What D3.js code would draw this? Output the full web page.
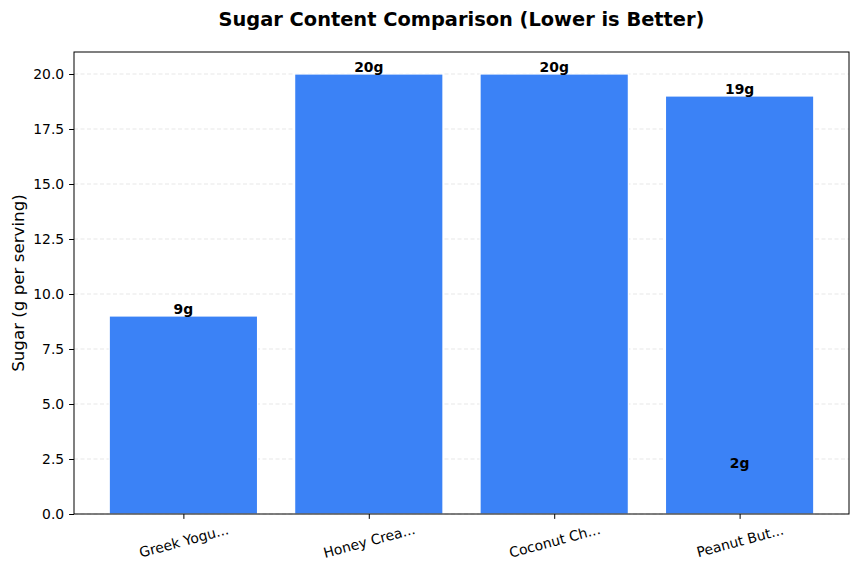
<!DOCTYPE html>
<html>
<head>
<meta charset="utf-8">
<script src="https://cdn.jsdelivr.net/npm/d3@7"></script>
<style>
  body { margin: 0; background: #fff; }
  text { font-family: "DejaVu Sans", sans-serif; }
</style>
</head>
<body>
<svg id="chart" width="859" height="572"></svg>
<script>
// products as plotted; the last two share one truncated name, so they share a slot
const products = ['Greek Yogu...', 'Honey Crea...', 'Coconut Ch...', 'Peanut But...', 'Peanut But...'];
const sugar = [9, 20, 20, 19, 2];
const yTicks = [0, 2.5, 5, 7.5, 10, 12.5, 15, 17.5, 20];

const MARGIN = {top: 52, right: 10, bottom: 58, left: 74};
const width = 859, height = 572;
const innerWidth = width - MARGIN.left - MARGIN.right;
const innerHeight = height - MARGIN.top - MARGIN.bottom;

const svg = d3.select('#chart');
const g = svg.append('g').attr('transform', `translate(${MARGIN.left},${MARGIN.top})`);

const categories = Array.from(new Set(products));
const pos = name => categories.indexOf(name);

const x = d3.scaleLinear().domain([-0.59, categories.length - 1 + 0.59]).range([0, innerWidth]);
const y = d3.scaleLinear().domain([0, 21]).range([innerHeight, 0]);
const barW = x(0.8) - x(0);

// grid
g.append('g')
  .selectAll('line')
  .data(yTicks)
  .enter().append('line')
    .attr('x1', 0).attr('x2', innerWidth)
    .attr('y1', d => y(d)).attr('y2', d => y(d))
    .attr('stroke', '#b0b0b0')
    .attr('stroke-opacity', 0.3)
    .attr('stroke-dasharray', '4,2.5');

const data = products.map((p, i) => ({name: p, value: sugar[i]}));

// shorter bars first so a shorter bar sharing a slot stays hidden behind
g.append('g')
  .selectAll('rect')
  .data(data.slice().sort((a, b) => a.value - b.value))
  .enter().append('rect')
    .attr('x', d => x(pos(d.name)) - barW / 2)
    .attr('y', d => y(d.value))
    .attr('width', barW)
    .attr('height', d => y(0) - y(d.value))
    .attr('fill', '#3b82f6')
    .attr('stroke', '#fff')
    .attr('stroke-width', 1.2);

g.append('g')
  .selectAll('text')
  .data(data)
  .enter().append('text')
    .attr('x', d => x(pos(d.name)))
    .attr('y', d => y(d.value) - 2)
    .attr('text-anchor', 'middle')
    .style('font-size', '13.9px')
    .style('font-weight', 'bold')
    .text(d => `${d.value}g`);

// axes
const yAxis = g.append('g')
  .call(d3.axisLeft(y).tickValues(yTicks).tickFormat(d3.format('.1f')).tickSizeOuter(0).tickSize(4.9).tickPadding(4.9));
yAxis.select('.domain').remove();
yAxis.selectAll('text').style('font-size', '13.9px').attr('fill', '#000');

const xAxis = g.append('g')
  .attr('transform', `translate(0,${innerHeight})`)
  .call(d3.axisBottom(x).tickValues(d3.range(categories.length)).tickFormat(i => categories[i]).tickSizeOuter(0).tickSize(4.9));
xAxis.select('.domain').remove();
xAxis.selectAll('text')
  .style('font-size', '13.9px')
  .attr('fill', '#000')
  .attr('text-anchor', 'middle')
  .attr('y', 0)
  .attr('dy', '0.35em')
  .attr('transform', 'translate(0,27) rotate(-15)');

g.append('rect')
  .attr('width', innerWidth).attr('height', innerHeight)
  .attr('fill', 'none').attr('stroke', '#000').attr('stroke-width', 1);

svg.append('text')
  .attr('x', MARGIN.left + innerWidth / 2)
  .attr('y', 26)
  .attr('text-anchor', 'middle')
  .style('font-size', '19.4px')
  .style('font-weight', 'bold')
  .text('Sugar Content Comparison (Lower is Better)');

svg.append('text')
  .attr('transform', `translate(24,${MARGIN.top + innerHeight / 2}) rotate(-90)`)
  .attr('text-anchor', 'middle')
  .style('font-size', '16.7px')
  .text('Sugar (g per serving)');
</script>
</body>
</html>
